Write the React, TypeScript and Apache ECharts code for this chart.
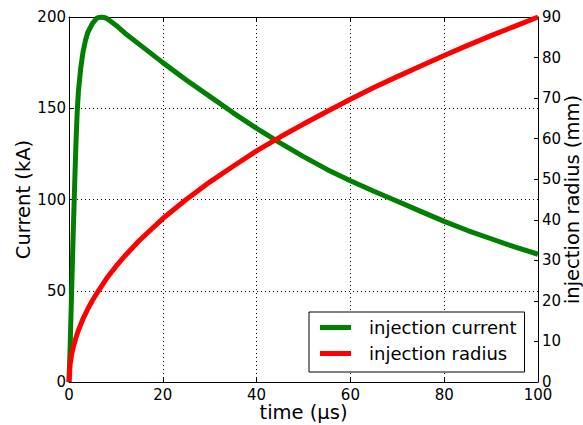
import React, { useEffect, useRef } from "react";
import * as echarts from "echarts";

const currentTime = [0, 0.25, 0.5, 0.75, 1, 1.25, 1.5, 1.75, 2, 2.5, 3, 3.5, 4, 5, 6, 7, 8, 10, 12, 15, 20, 25, 30, 35, 40, 45, 50, 55, 60, 65, 70, 75, 80, 85, 90, 95, 100];
const currentKA = [0, 20, 44, 68, 90, 112, 132, 148, 159, 172, 181, 187, 191.5, 196.5, 199.5, 200, 199.3, 195.5, 191, 185, 175, 165.5, 156.5, 147.5, 139, 131, 123.5, 116.5, 110.3, 104.5, 99, 93.5, 88, 83, 78.5, 74, 70];

const radiusTime = [0, 0.25, 0.5, 0.75, 1, 1.5, 2, 3, 4, 5, 6, 8, 10, 12, 15, 20, 25, 30, 35, 40, 45, 50, 55, 60, 65, 70, 75, 80, 85, 90, 95, 100];
const radiusMM = [0, 4.5, 6.4, 7.8, 9, 11, 12.7, 15.6, 18, 20.1, 22, 25.5, 28.5, 31.2, 34.9, 40.3, 45, 49.3, 53.2, 57, 60.4, 63.6, 66.7, 69.7, 72.6, 75.3, 77.9, 80.5, 83, 85.4, 87.7, 90];

const seriesNames = ["injection current", "injection radius"];
const xName = "time (μs)";
const yLeftName = "Current (kA)";
const yRightName = "injection radius (mm)";

const FONT = "DejaVu Sans";

export default function App() {
  const ref = useRef<HTMLDivElement>(null);
  useEffect(() => {
    if (!ref.current) return;
    const chart = echarts.init(ref.current, null, { renderer: "svg" });
    const tickLabel = { color: "#000", fontFamily: FONT, fontSize: 15 };
    const gridLine = { show: true, lineStyle: { color: "#000", type: [1, 3] as any, width: 1 } };
    chart.setOption({
      animation: false,
      backgroundColor: "#fff",
      textStyle: { fontFamily: FONT },
      grid: { left: 69, right: 45, top: 17, bottom: 43, containLabel: false, outerBoundsMode: "none" },
      xAxis: [
        {
          type: "value",
          position: "bottom",
          min: 0,
          max: 100,
          interval: 20,
          name: xName,
          nameLocation: "middle",
          nameGap: 20,
          nameMoveOverlap: false,
          nameTextStyle: { color: "#000", fontFamily: FONT, fontSize: 19.5, lineHeight: 20 },
          axisLine: { show: true, onZero: false, lineStyle: { color: "#000", width: 1 } },
          axisTick: { show: true, inside: true, length: 4, lineStyle: { color: "#000" } },
          axisLabel: { ...tickLabel, margin: 5, hideOverlap: false },
          splitLine: gridLine,
        },
        {
          type: "value",
          position: "top",
          min: 0,
          max: 100,
          interval: 20,
          axisLine: { show: true, onZero: false, lineStyle: { color: "#000", width: 1 } },
          axisTick: { show: true, inside: true, length: 4, lineStyle: { color: "#000" } },
          axisLabel: { show: false },
          splitLine: { show: false },
        },
      ],
      yAxis: [
        {
          type: "value",
          position: "left",
          min: 0,
          max: 200,
          interval: 50,
          name: yLeftName,
          nameLocation: "middle",
          nameRotate: 90,
          nameGap: 36,
          nameMoveOverlap: false,
          nameTextStyle: { color: "#000", fontFamily: FONT, fontSize: 19.5 },
          axisLine: { show: true, onZero: false, lineStyle: { color: "#000", width: 1 } },
          axisTick: { show: true, inside: true, length: 4, lineStyle: { color: "#000" } },
          axisLabel: { ...tickLabel, margin: 3 },
          splitLine: gridLine,
        },
        {
          type: "value",
          position: "right",
          min: 0,
          max: 90,
          interval: 10,
          name: yRightName,
          nameLocation: "middle",
          nameRotate: 90,
          nameGap: 24,
          nameMoveOverlap: false,
          nameTextStyle: { color: "#000", fontFamily: FONT, fontSize: 19.5 },
          axisLine: { show: true, onZero: false, lineStyle: { color: "#000", width: 1 } },
          axisTick: { show: true, inside: true, length: 4, lineStyle: { color: "#000" } },
          axisLabel: { ...tickLabel, margin: 4 },
          splitLine: { show: false },
        },
      ],
      legend: {
        show: true,
        orient: "vertical",
        left: 309,
        top: 312,
        padding: [5, 8, 8, 11],
        itemGap: 5,
        itemWidth: 31,
        itemHeight: 5,
        icon: "rect",
        borderColor: "#000",
        borderWidth: 1,
        backgroundColor: "#fff",
        borderRadius: 0,
        textStyle: { color: "#000", fontFamily: FONT, fontSize: 18, lineHeight: 21, padding: [0, 0, 0, 13] },
        data: seriesNames,
      },
      series: [
        {
          name: seriesNames[0],
          type: "line",
          xAxisIndex: 0,
          yAxisIndex: 0,
          showSymbol: false,
          smooth: false,
          color: "#008000",
          lineStyle: { color: "#008000", width: 5 },
          data: currentTime.map((t, i) => [t, currentKA[i]]),
          z: 3,
        },
        {
          name: seriesNames[1],
          type: "line",
          xAxisIndex: 0,
          yAxisIndex: 1,
          showSymbol: false,
          smooth: false,
          color: "#ff0000",
          lineStyle: { color: "#ff0000", width: 5 },
          data: radiusTime.map((t, i) => [t, radiusMM[i]]),
          z: 4,
        },
      ],
    });
    return () => chart.dispose();
  }, []);
  return (
    <div
      ref={ref}
      style={{ position: "fixed", left: 0, top: 0, width: 583, height: 425 }}
    />
  );
}
